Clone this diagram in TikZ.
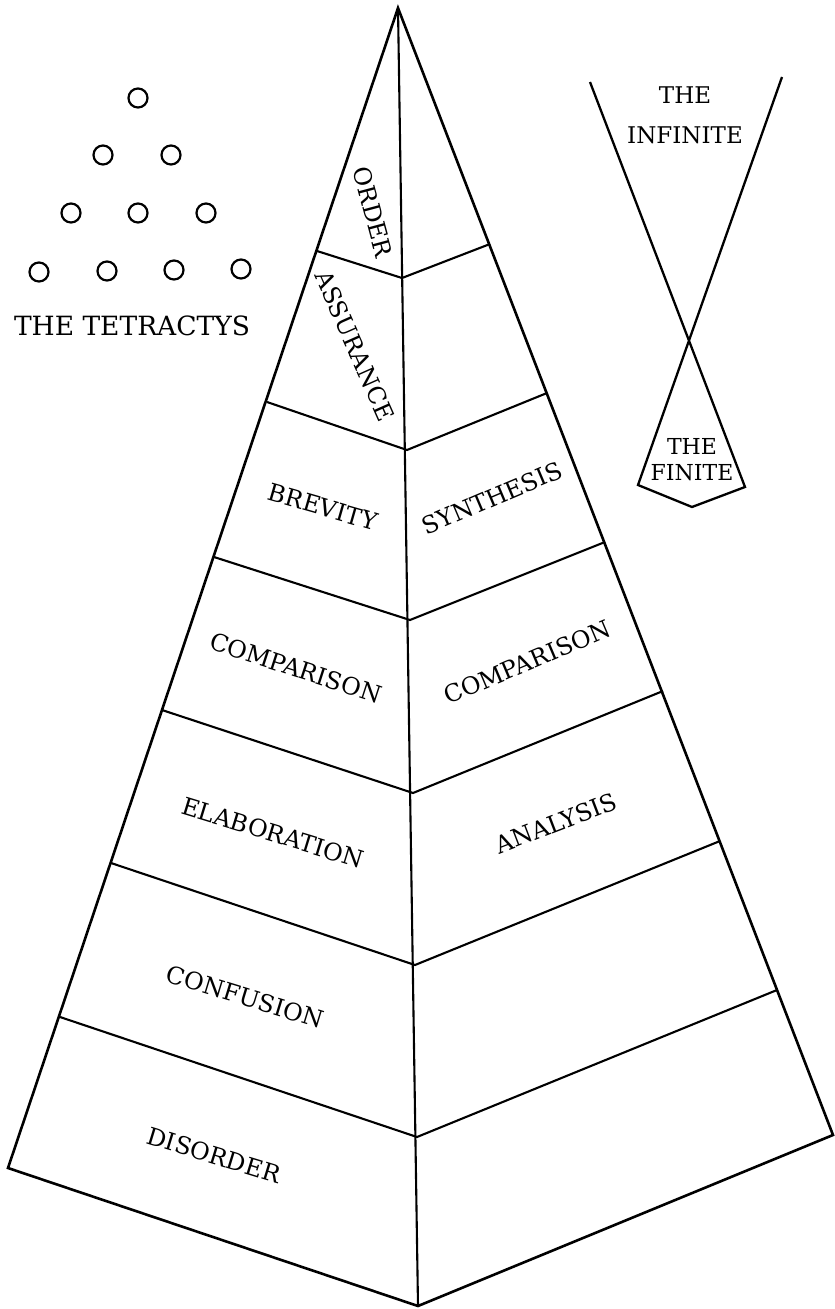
\documentclass[tikz,border=0pt]{standalone}
\usepackage{fontspec}
\setmainfont{DejaVu Serif}
\begin{document}
\begin{tikzpicture}[x=1pt,y=-1pt,
  outer/.style={line width=2.6pt, line join=miter},
  band/.style={line width=2.1pt},
  lbl/.style={font=\fontsize{24}{28}\selectfont, inner sep=0pt},
  dotc/.style={circle, draw, line width=2.2pt, minimum size=19pt, inner sep=0pt}]
\useasboundingbox (0,0) rectangle (835,1309);
% pyramid
\coordinate (A) at (398,8);
\coordinate (BL) at (8,1168);
\coordinate (B) at (418,1306);
\coordinate (BR) at (833,1135);
\coordinate (L1) at (317,251);  \coordinate (C1) at (402,278);  \coordinate (R1) at (490,244);
\coordinate (L2) at (267,402);  \coordinate (C2) at (407,450);  \coordinate (R2) at (547,393);
\coordinate (L3) at (214,557);  \coordinate (C3) at (410,620);  \coordinate (R3) at (605,542);
\coordinate (L4) at (162,710);  \coordinate (C4) at (413,793);  \coordinate (R4) at (663,691);
\coordinate (L5) at (111,863);  \coordinate (C5) at (415,965);  \coordinate (R5) at (720,841);
\coordinate (L6) at (60,1017);  \coordinate (C6) at (417,1137); \coordinate (R6) at (777,990);
\draw[outer] (A) -- (BL) -- (B) -- (BR) -- cycle;
\draw[band] (A) -- (B);
\foreach \i in {1,...,6} { \draw[band] (L\i) -- (C\i) -- (R\i); }
% labels
\node[lbl, rotate=-75] (order) at (373,212) {ORDER};
\node[lbl, rotate=-66] (assurance) at (355,346) {ASSURANCE};
\node[lbl, rotate=-16] (brevity) at (323,507) {BREVITY};
\node[lbl, rotate=23] (synthesis) at (492,498) {SYNTHESIS};
\node[lbl, rotate=-18] (compL) at (296,668) {COMPARISON};
\node[lbl, rotate=23] (compR) at (527,662) {COMPARISON};
\node[lbl, rotate=-17] (elab) at (273,833) {ELABORATION};
\node[lbl, rotate=21] (analysis) at (556,823) {ANALYSIS};
\node[lbl, rotate=-17] (confusion) at (245,997) {CONFUSION};
\node[lbl, rotate=-17] (disorder) at (214,1155) {DISORDER};
% tetractys
\node[dotc] (t1) at (138,98) {};
\node[dotc] (t2) at (103,155) {};
\node[dotc] (t3) at (171,155) {};
\node[dotc] (t4) at (71,213) {};
\node[dotc] (t5) at (138,213) {};
\node[dotc] (t6) at (206,213) {};
\node[dotc] (t7) at (39,272) {};
\node[dotc] (t8) at (107,271) {};
\node[dotc] (t9) at (174,270) {};
\node[dotc] (t10) at (241,269) {};
\node[inner sep=0pt, font=\fontsize{26.5}{30}\selectfont] (tetr) at (132,326) {THE TETRACTYS};
% infinite / finite
\coordinate (I1) at (590,82);
\coordinate (I2) at (745,487);
\coordinate (J1) at (782,77);
\coordinate (J2) at (638,485);
\coordinate (F) at (692,507);
\draw[band, line width=2.3pt, line join=miter] (I1) -- (I2) -- (F) -- (J2) -- (J1);
\node[inner sep=0pt, align=center, font=\fontsize{23}{40}\selectfont] (inf) at (685,115) {THE\\INFINITE};
\node[inner sep=0pt, align=center, font=\fontsize{22}{26}\selectfont] (fin) at (692,460) {THE\\FINITE};
\end{tikzpicture}
\end{document}
